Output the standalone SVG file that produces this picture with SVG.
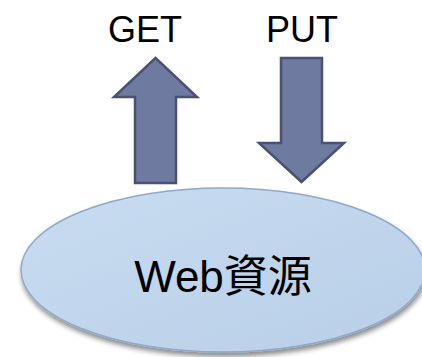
<svg xmlns="http://www.w3.org/2000/svg" width="422" height="357" viewBox="0 0 422 357">
<style>
.lbl{font-family:"Liberation Sans","Noto Sans CJK JP",sans-serif;fill:#000}
.arrow{fill:#6e7aa0;stroke:#495275;stroke-width:2.5;stroke-linejoin:miter}
</style>
<defs>
<linearGradient id="g" x1="0" y1="0" x2="1" y2="1">
<stop offset="0" stop-color="#c9dcf0"/>
<stop offset="1" stop-color="#b8cfe8"/>
</linearGradient>
<filter id="sh" x="-10%" y="-10%" width="120%" height="130%">
<feGaussianBlur in="SourceAlpha" stdDeviation="2.5"/>
<feOffset dx="1" dy="4" result="b"/>
<feComponentTransfer><feFuncA type="linear" slope="0.45"/></feComponentTransfer>
<feMerge><feMergeNode/><feMergeNode in="SourceGraphic"/></feMerge>
</filter>
</defs>
<rect width="422" height="357" fill="#fff"/>
<g id="web-resource">
<ellipse cx="223" cy="270" rx="202" ry="82" fill="url(#g)" stroke="#8ea9c9" stroke-width="1.5" filter="url(#sh)"/>
<text class="lbl" x="223" y="292" font-size="44" text-anchor="middle">Web資源</text>
</g>
<g id="connectors">
<g id="get">
<polygon class="arrow" points="155.5,58 197,97 176,97 176,183 135,183 135,97 114,97"/>
<text class="lbl" x="145" y="42" font-size="36" text-anchor="middle">GET</text>
</g>
<g id="put">
<polygon class="arrow" points="281,58 322,58 322,143 344,143 301.5,182 259,143 281,143"/>
<text class="lbl" x="302" y="42" font-size="36" text-anchor="middle">PUT</text>
</g>
</g>
</svg>
